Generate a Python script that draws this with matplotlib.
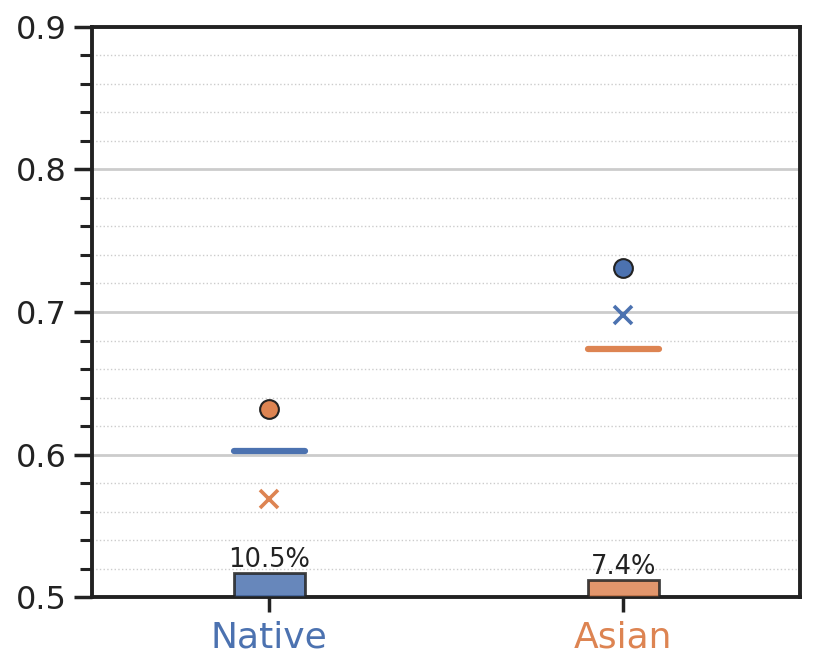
import matplotlib.pyplot as plt
from matplotlib.ticker import MultipleLocator
import numpy as np

groups = ['Native', 'Asian']
colors = ['#4C72B0', '#DD8452']
pct = [10.5, 7.4]
bar_height = [0.0172, 0.0124]
circle_vals = [0.632, 0.731]
circle_cols = ['#DD8452', '#4C72B0']
line_vals = [0.6025, 0.674]
line_cols = ['#4C72B0', '#DD8452']
cross_vals = [0.569, 0.698]
cross_cols = ['#DD8452', '#4C72B0']

fig = plt.figure(figsize=(8.15, 6.71), dpi=100)
ax = fig.add_axes([0.113, 0.110, 0.869, 0.850])

x = np.arange(len(groups))
base = 0.5

ax.bar(x, bar_height, bottom=base, width=0.2, color=colors, alpha=0.85,
       edgecolor='#222222', linewidth=2, zorder=3)
for xi, h, p in zip(x, bar_height, pct):
    ax.annotate(f'{p}%', (xi, base + h), xytext=(0, 0), textcoords='offset points',
                ha='center', va='bottom', fontsize=18.5, color='#222222', zorder=4)

for xi, v, c in zip(x, line_vals, line_cols):
    ax.plot([xi - 0.1, xi + 0.1], [v, v], color=c, lw=4.5, solid_capstyle='round', zorder=4)
for xi, v, c in zip(x, circle_vals, circle_cols):
    ax.plot(xi, v, 'o', color=c, markersize=13.5, markeredgecolor='#222222', mew=1.5, zorder=5)
for xi, v, c in zip(x, cross_vals, cross_cols):
    ax.plot(xi, v, 'x', color=c, markersize=13, mew=2.6, zorder=5)

ax.set_xlim(-0.5, 1.5)
ax.set_ylim(0.5, 0.9)
ax.set_xticks(x)
ax.set_xticklabels(groups, fontsize=26)
for lbl, c in zip(ax.get_xticklabels(), colors):
    lbl.set_color(c)
ax.yaxis.set_major_locator(MultipleLocator(0.1))
ax.yaxis.set_minor_locator(MultipleLocator(0.02))
ax.set_yticks(np.arange(0.5, 0.91, 0.1))
ax.set_yticklabels([f'{v:.1f}' for v in np.arange(0.5, 0.91, 0.1)], fontsize=23, color='#222222')

ax.grid(axis='y', which='major', color='#cccccc', lw=2, zorder=0)
ax.grid(axis='y', which='minor', color='#cccccc', lw=1, ls=':', zorder=0)
ax.set_axisbelow(True)

for s in ax.spines.values():
    s.set_linewidth(2.8)
    s.set_color('#222222')
ax.tick_params(axis='y', which='major', length=13, width=2.5, color='#222222', pad=5)
ax.tick_params(axis='y', which='minor', length=8.5, width=2.2, color='#222222')
ax.tick_params(axis='x', which='major', length=11, width=2.5, color='#222222', pad=6)

fig.savefig('out.png', dpi=100)
